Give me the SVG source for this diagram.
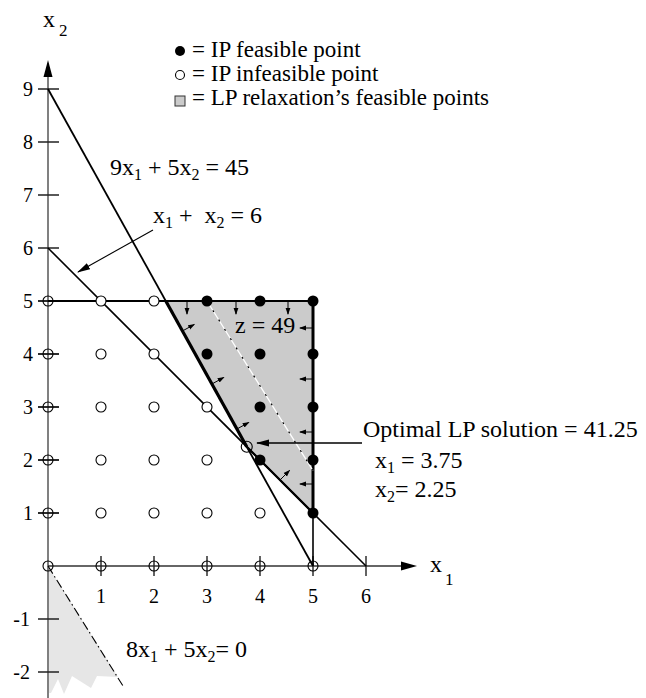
<svg xmlns="http://www.w3.org/2000/svg" width="646" height="698" viewBox="0 0 646 698">
<style>
text{font-family:"Liberation Serif","Times New Roman",serif;fill:#000}
.lab{font-size:24px}
.leg{font-size:23px}
.tick{font-size:20px}
.sub{font-size:16px}
.tk{stroke:#222;stroke-width:1.4;fill:none}
.oc{fill:#fff;stroke:#000;stroke-width:1.1}
.ocx{fill:none;stroke:#000;stroke-width:1.1}
.fc{fill:#000}
.ln{stroke:#000;fill:none}
.sa{stroke:#000;stroke-width:1;fill:none;marker-end:url(#sa)}
</style>
<defs>
<marker id="sa" markerWidth="7" markerHeight="6" refX="6" refY="3" orient="auto" markerUnits="userSpaceOnUse"><path d="M0,0.6 L7,3 L0,5.4 z" fill="#000"/></marker>
<marker id="ba" markerWidth="13" markerHeight="8" refX="12" refY="4" orient="auto" markerUnits="userSpaceOnUse"><path d="M0,0.6 L13,4 L0,7.4 z" fill="#000"/></marker>
</defs>

<g id="regions">
<polygon points="48,566 118,677 97,676 91,688 72,676 64,694 58,679 51,693 48,693" fill="#e6e6e6"/>
<polygon points="165.8,301 313,301 313,513 246.75,446.75" fill="#cbcbcb"/>
</g>

<g id="axes">
<line x1="48" y1="698" x2="48" y2="74" stroke="#808080" stroke-width="2"/>
<polygon points="48,60 43.5,77 52.5,77" fill="#000"/>
<line x1="48" y1="566" x2="405" y2="566" stroke="#333" stroke-width="1.5"/>
<polygon points="417,566 401,561.5 401,570.5" fill="#000"/>
<path class="tk" d="M38,89H59M38,142H59M38,195H59M38,248H59M38,301H59M38,354H59M38,407H59M38,460H59M38,513H59M38,619H59M38,672H59"/>
<path class="tk" d="M101,556V576M154,556V576M207,556V576M260,556V576M313,556V576M366,556V576"/>
<g text-anchor="end">
<text x="33" y="96" class="tick">9</text>
<text x="33" y="149" class="tick">8</text>
<text x="33" y="202" class="tick">7</text>
<text x="33" y="255" class="tick">6</text>
<text x="33" y="308" class="tick">5</text>
<text x="33" y="361" class="tick">4</text>
<text x="33" y="414" class="tick">3</text>
<text x="33" y="467" class="tick">2</text>
<text x="33" y="520" class="tick">1</text>
<text x="30" y="626" class="tick">-1</text>
<text x="30" y="679" class="tick">-2</text>
</g>
<g text-anchor="middle">
<text x="101" y="603" class="tick">1</text>
<text x="154" y="603" class="tick">2</text>
<text x="207" y="603" class="tick">3</text>
<text x="260" y="603" class="tick">4</text>
<text x="313" y="603" class="tick">5</text>
<text x="366" y="603" class="tick">6</text>
</g>
<text x="43" y="27" class="lab">x</text>
<text x="59" y="36" class="sub" style="font-size:17px">2</text>
<text x="430" y="572" class="lab">x</text>
<text x="445" y="585" class="sub" style="font-size:17px">1</text>
</g>

<g id="constraint-lines">
<line class="ln" x1="48" y1="89" x2="313" y2="566" stroke-width="1.8"/>
<line class="ln" x1="165.8" y1="301" x2="246.75" y2="446.75" stroke-width="3.2"/>
<line class="ln" x1="48" y1="248" x2="366" y2="566" stroke-width="1.6"/>
<line class="ln" x1="246.75" y1="446.75" x2="313" y2="513" stroke-width="2.2"/>
<line class="ln" x1="48" y1="301" x2="313" y2="301" stroke-width="1.8"/>
<line class="ln" x1="313" y1="301" x2="313" y2="566" stroke-width="1.6"/>
<line class="ln" x1="313" y1="301" x2="313" y2="513" stroke-width="3"/>
</g>

<g id="objective-lines">
<line x1="207" y1="301" x2="313" y2="470.6" stroke="#fff" stroke-width="1.3"/>
<line x1="207" y1="301" x2="313" y2="470.6" stroke="#000" stroke-width="1.2" stroke-dasharray="2 9"/>
<line x1="48" y1="566" x2="123" y2="686" stroke="#000" stroke-width="1.1" stroke-dasharray="9 3 1.5 3"/>
</g>

<g id="direction-arrows">
<line class="sa" x1="187" y1="301" x2="187" y2="314"/>
<line class="sa" x1="236" y1="301" x2="236" y2="314"/>
<line class="sa" x1="288" y1="301" x2="288" y2="314"/>
<line class="sa" x1="313" y1="328" x2="300" y2="328"/>
<line class="sa" x1="313" y1="379" x2="300" y2="379"/>
<line class="sa" x1="313" y1="432" x2="300" y2="432"/>
<line class="sa" x1="313" y1="484" x2="300" y2="484"/>
<line class="sa" x1="182.4" y1="331" x2="194.2" y2="324.5"/>
<line class="sa" x1="211.9" y1="384" x2="223.7" y2="377.5"/>
<line class="sa" x1="236.9" y1="429" x2="248.7" y2="422.5"/>
<line class="sa" x1="280" y1="480" x2="289.5" y2="470.5"/>
</g>

<g id="axis-points">
<path class="ocx" d="M38,301H59M38,354H59M38,407H59M38,460H59M38,513H59"/>
<circle class="ocx" cx="48" cy="301" r="5"/>
<circle class="ocx" cx="48" cy="354" r="5"/>
<circle class="ocx" cx="48" cy="407" r="5"/>
<circle class="ocx" cx="48" cy="460" r="5"/>
<circle class="ocx" cx="48" cy="513" r="5"/>
<circle class="ocx" cx="48" cy="566" r="5"/>
<circle class="ocx" cx="101" cy="566" r="5"/>
<circle class="ocx" cx="154" cy="566" r="5"/>
<circle class="ocx" cx="207" cy="566" r="5"/>
<circle class="ocx" cx="260" cy="566" r="5"/>
<circle class="ocx" cx="313" cy="566" r="5"/>
</g>

<g id="ip-infeasible-points">
<circle class="oc" cx="101" cy="301" r="5"/>
<circle class="oc" cx="154" cy="301" r="5"/>
<circle class="oc" cx="101" cy="354" r="5"/>
<circle class="oc" cx="154" cy="354" r="5"/>
<circle class="oc" cx="101" cy="407" r="5"/>
<circle class="oc" cx="154" cy="407" r="5"/>
<circle class="oc" cx="207" cy="407" r="5"/>
<circle class="oc" cx="101" cy="460" r="5"/>
<circle class="oc" cx="154" cy="460" r="5"/>
<circle class="oc" cx="207" cy="460" r="5"/>
<circle class="oc" cx="101" cy="513" r="5"/>
<circle class="oc" cx="154" cy="513" r="5"/>
<circle class="oc" cx="207" cy="513" r="5"/>
<circle class="oc" cx="260" cy="513" r="5"/>
<circle class="ocx" cx="246.75" cy="446.75" r="5.5"/>
</g>

<g id="ip-feasible-points">
<circle class="fc" cx="207" cy="301" r="5.5"/>
<circle class="fc" cx="260" cy="301" r="5.5"/>
<circle class="fc" cx="313" cy="301" r="5.5"/>
<circle class="fc" cx="207" cy="354" r="5.5"/>
<circle class="fc" cx="260" cy="354" r="5.5"/>
<circle class="fc" cx="313" cy="354" r="5.5"/>
<circle class="fc" cx="260" cy="407" r="5.5"/>
<circle class="fc" cx="313" cy="407" r="5.5"/>
<circle class="fc" cx="260" cy="460" r="5.5"/>
<circle class="fc" cx="313" cy="460" r="5.5"/>
<circle class="fc" cx="313" cy="513" r="5.5"/>
</g>

<g id="legend">
<circle class="fc" cx="180" cy="51" r="5"/>
<text x="192" y="57" class="leg">= IP feasible point</text>
<circle class="oc" cx="180" cy="75" r="4.5"/>
<text x="192" y="81" class="leg">= IP infeasible point</text>
<rect x="175" y="96" width="10" height="10" fill="#cbcbcb" stroke="#333" stroke-width="1"/>
<text x="192" y="105" class="leg">= LP relaxation’s feasible points</text>
</g>

<g id="labels">
<text x="110" y="175" class="lab">9x<tspan class="sub" dy="5">1</tspan><tspan dy="-5"> + 5x</tspan><tspan class="sub" dy="5">2</tspan><tspan dy="-5"> = 45</tspan></text>
<text x="153" y="223" class="lab">x<tspan class="sub" dy="5">1</tspan><tspan dy="-5"> + </tspan><tspan dx="6">x</tspan><tspan class="sub" dy="5">2</tspan><tspan dy="-5"> = 6</tspan></text>
<text x="235" y="333" class="lab">z = 49</text>
<text x="363" y="437" class="lab">Optimal LP solution = 41.25</text>
<text x="375" y="468" class="lab">x<tspan class="sub" dy="5">1</tspan><tspan dy="-5"> = 3.75</tspan></text>
<text x="375" y="497" class="lab">x<tspan class="sub" dy="5">2</tspan><tspan dy="-5">= 2.25</tspan></text>
<text x="126" y="657" class="lab">8x<tspan class="sub" dy="5">1</tspan><tspan dy="-5"> + 5x</tspan><tspan class="sub" dy="5">2</tspan><tspan dy="-5">= 0</tspan></text>
</g>

<g id="connectors">
<line x1="153" y1="230" x2="78" y2="272" stroke="#000" stroke-width="1.1" marker-end="url(#ba)"/>
<line x1="362" y1="443" x2="257" y2="443" stroke="#000" stroke-width="1.3" marker-end="url(#ba)"/>
</g>
</svg>
